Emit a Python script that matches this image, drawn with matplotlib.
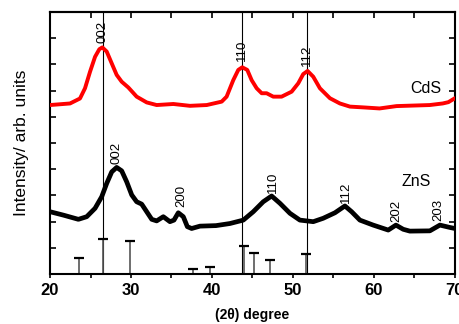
import numpy as np
import matplotlib
matplotlib.use("Agg")
import matplotlib.pyplot as plt
from matplotlib.ticker import MultipleLocator

plt.rcParams["font.family"] = ["Liberation Sans", "DejaVu Sans"]

# CdS pattern (red, offset upward)
cds_x = [20, 22.47, 23.70, 24.32, 24.94, 25.56, 26.09, 26.46, 27.0, 27.62,
         28.23, 28.85, 29.67, 30.70, 31.94, 33.17, 35.23, 37.28, 39.35, 41.20,
         41.81, 42.63, 43.25, 43.74, 44.36, 44.90, 45.52, 46.14, 46.75, 47.57,
         48.60, 49.84, 50.66, 51.27, 51.81, 52.51, 53.33, 54.57, 55.80, 57.04,
         58.7, 60.7, 62.8, 66.9, 68.5, 69.2, 70]
cds_y = [6.45, 6.51, 6.70, 7.09, 7.72, 8.29, 8.58, 8.65, 8.49, 8.04,
         7.60, 7.34, 7.12, 6.77, 6.55, 6.45, 6.49, 6.42, 6.45, 6.58,
         6.77, 7.40, 7.79, 7.89, 7.79, 7.40, 7.09, 6.90, 6.90, 6.77,
         6.77, 6.96, 7.28, 7.63, 7.75, 7.53, 7.09, 6.71, 6.51, 6.39,
         6.36, 6.32, 6.41, 6.45, 6.51, 6.56, 6.71]

# ZnS pattern (black)
zns_x = [20, 21.65, 23.5, 24.53, 25.56, 26.38, 27.0, 27.62, 28.23, 28.85,
         29.47, 30.09, 30.70, 31.32, 31.94, 32.56, 33.17, 33.99, 34.81, 35.31,
         35.84, 36.46, 36.96, 37.49, 38.52, 40.5, 42.22, 43.87, 45.1, 46.33,
         47.37, 48.40, 49.63, 50.86, 52.51, 53.74, 55.19, 56.42, 57.25, 58.27,
         59.91, 61.77, 62.72, 63.62, 64.44, 66.91, 68.15, 69.38, 70]
zns_y = [2.38, 2.25, 2.09, 2.19, 2.51, 2.95, 3.46, 3.90, 4.07, 3.94,
         3.52, 3.02, 2.76, 2.67, 2.38, 2.09, 2.03, 2.19, 2.00, 2.06,
         2.34, 2.19, 1.81, 1.74, 1.83, 1.85, 1.93, 2.06, 2.38, 2.76,
         2.98, 2.70, 2.32, 2.06, 2.00, 2.13, 2.34, 2.60, 2.38, 2.06,
         1.87, 1.68, 1.87, 1.71, 1.64, 1.65, 1.87, 1.78, 1.74]

# reference stick pattern
ref_pos = [23.6, 26.6, 29.9, 37.6, 39.8, 43.9, 45.2, 47.2, 51.6]
ref_int = [0.60, 1.34, 1.27, 0.18, 0.26, 1.07, 0.81, 0.53, 0.76]

# CdS reflection guide lines
guide_pos = [26.5, 43.7, 51.7]

cds_labels = ["002", "110", "112"]
cds_lab_x = [26.5, 43.7, 51.7]
cds_lab_y = [9.24, 8.55, 8.36]

zns_labels = ["002", "200", "110", "112", "202", "203"]
zns_lab_x = [28.2, 36.2, 47.5, 56.5, 62.8, 68.0]
zns_lab_y = [4.62, 2.98, 3.51, 3.13, 2.40, 2.44]

fig = plt.figure(figsize=(4.59, 3.24), dpi=100)
ax = fig.add_axes([0.109, 0.154, 0.882, 0.809])

for gx in guide_pos:
    ax.axvline(gx, color="black", lw=0.8, zorder=1)

ax.vlines(ref_pos, 0, ref_int, color="#555555", lw=1.2, zorder=2)
ax.plot(ref_pos, ref_int, ls="none", marker="_", ms=7, mew=1.6, color="black", zorder=3)

ax.plot(cds_x, cds_y, color="red", lw=2.8, solid_joinstyle="round",
        solid_capstyle="round", zorder=4)
ax.plot(zns_x, zns_y, color="black", lw=3.4, solid_joinstyle="round",
        solid_capstyle="round", zorder=4)

for t, x, y in zip(cds_labels, cds_lab_x, cds_lab_y):
    ax.text(x, y, t, rotation=90, ha="center", va="center", fontsize=9.5)
for t, x, y in zip(zns_labels, zns_lab_x, zns_lab_y):
    ax.text(x, y, t, rotation=90, ha="center", va="center", fontsize=9.5)

ax.text(66.4, 7.1, "CdS", ha="center", va="center", fontsize=11.5)
ax.text(65.2, 3.55, "ZnS", ha="center", va="center", fontsize=11.5)

ax.set_xlim(20, 70)
ax.set_ylim(0, 10)
ax.xaxis.set_major_locator(MultipleLocator(10))
ax.xaxis.set_minor_locator(MultipleLocator(5))
ax.yaxis.set_major_locator(MultipleLocator(1))
ax.set_yticklabels([])
ax.tick_params(axis="y", which="both", direction="in", left=True, right=True,
               length=4, width=1.2)
ax.tick_params(axis="x", which="both", direction="out", bottom=True, top=False,
               length=3, width=1.2, labelsize=12)
for lab in ax.get_xticklabels():
    lab.set_fontweight("bold")

# inward ticks along the top edge
top = ax.secondary_xaxis("top")
top.xaxis.set_major_locator(MultipleLocator(5))
top.tick_params(direction="in", length=4, width=1.2, labeltop=False)
top.spines["top"].set_linewidth(1.5)

for s in ax.spines.values():
    s.set_linewidth(1.5)

ax.set_xlabel("(2θ) degree", fontsize=10, fontweight="bold", labelpad=7)
ax.set_ylabel("Intensity/ arb. units", fontsize=12.5, labelpad=12)

fig.savefig("out.png", dpi=100)
